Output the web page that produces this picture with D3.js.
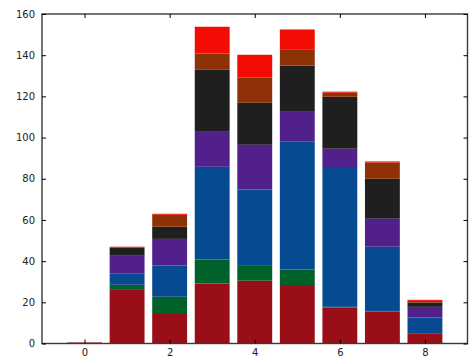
<!DOCTYPE html>
<html>
<head>
<meta charset="utf-8">
<script src="https://cdn.jsdelivr.net/npm/d3@7"></script>
<style>
  html, body { margin: 0; padding: 0; background: #fff; }
  svg { display: block; }
  text { font-family: "DejaVu Sans", sans-serif; font-size: 10px; fill: #222; }
</style>
</head>
<body>
<svg id="chart" width="470" height="361"></svg>
<script>
// Bar positions along x
const positions = [0, 1, 2, 3, 4, 5, 6, 7, 8];

// Stacked series, bottom to top
const seriesNames = ["s1", "s2", "s3", "s4", "s5", "s6", "s7"];
const s1 = [0.5, 26.4, 14.8, 29.1, 30.5, 28.4, 17.5, 15.5, 4.7];
const s2 = [0, 2.1, 7.9, 11.7, 7.2, 7.5, 0.3, 0.3, 0];
const s3 = [0, 5.4, 15.2, 45.0, 37.1, 62.1, 67.9, 31.2, 7.9];
const s4 = [0, 8.7, 12.9, 17.0, 21.7, 14.5, 8.9, 13.6, 5.2];
const s5 = [0, 3.9, 5.9, 30.1, 20.4, 22.4, 25.2, 19.4, 2.1];
const s6 = [0, 0, 5.8, 7.9, 12.3, 7.7, 2.0, 7.9, 0.8];
const s7 = [0, 0.5, 0.5, 13.0, 11.0, 9.9, 0.5, 0.5, 0.5];
const seriesValues = [s1, s2, s3, s4, s5, s6, s7];
const seriesColors = ["#990e17", "#00622a", "#064b91", "#52208a", "#1f1f1f", "#8e3106", "#f20c03"];

const xTicks = [0, 2, 4, 6, 8];
const yTicks = [0, 20, 40, 60, 80, 100, 120, 140, 160];

const rows = positions.map((p, i) => {
  const r = { pos: p };
  seriesNames.forEach((n, k) => { r[n] = seriesValues[k][i]; });
  return r;
});

const margin = { left: 42, right: 2.5, top: 14, bottom: 17.5 };
const W = 470, H = 361;
const svg = d3.select("#chart");

const x = d3.scaleLinear().domain([-1, 9]).range([margin.left, W - margin.right]);
const y = d3.scaleLinear().domain([0, 160]).range([H - margin.bottom, margin.top]);

const barW = 0.82;
const stack = d3.stack().keys(seriesNames)(rows);

svg.append("g").selectAll("g")
  .data(stack)
  .join("g")
  .attr("fill", (d, i) => seriesColors[i])
  .selectAll("rect")
  .data(d => d)
  .join("rect")
  .attr("x", d => x(d.data.pos - barW / 2))
  .attr("width", d => x(barW) - x(0))
  .attr("y", d => y(d[1]))
  .attr("height", d => Math.max(0, y(d[0]) - y(d[1])));

// Frame and inward ticks on all four sides
const x0 = x(-1), x1 = x(9), yb = y(0), yt = y(160);
const frame = svg.append("g");
frame.append("rect")
  .attr("x", x0).attr("y", yt)
  .attr("width", x1 - x0).attr("height", yb - yt)
  .attr("fill", "none").attr("stroke", "#3a3a3a").attr("stroke-width", 1.4);

const tickLen = 4;
const bottomAxis = d3.axisBottom(x).tickValues(xTicks).tickSizeInner(-tickLen).tickSizeOuter(0).tickPadding(5).tickFormat(d3.format("d"));
const topAxis = d3.axisTop(x).tickValues(xTicks).tickSizeInner(-tickLen).tickSizeOuter(0).tickFormat("");
const leftAxis = d3.axisLeft(y).tickValues(yTicks).tickSizeInner(-tickLen).tickSizeOuter(0).tickPadding(7).tickFormat(d3.format("d"));
const rightAxis = d3.axisRight(y).tickValues(yTicks).tickSizeInner(-tickLen).tickSizeOuter(0).tickFormat("");

function styleAxis(g) {
  g.select(".domain").remove();
  g.selectAll(".tick line").attr("stroke", "#000").attr("stroke-width", 1);
  g.selectAll(".tick text").attr("fill", "#222").style("font-family", "DejaVu Sans, sans-serif").style("font-size", "10px");
}

svg.append("g").attr("transform", `translate(0,${yb})`).call(bottomAxis).call(styleAxis);
svg.append("g").attr("transform", `translate(0,${yt})`).call(topAxis).call(styleAxis);
svg.append("g").attr("transform", `translate(${x0},0)`).call(leftAxis).call(styleAxis);
svg.append("g").attr("transform", `translate(${x1},0)`).call(rightAxis).call(styleAxis);
</script>
</body>
</html>
